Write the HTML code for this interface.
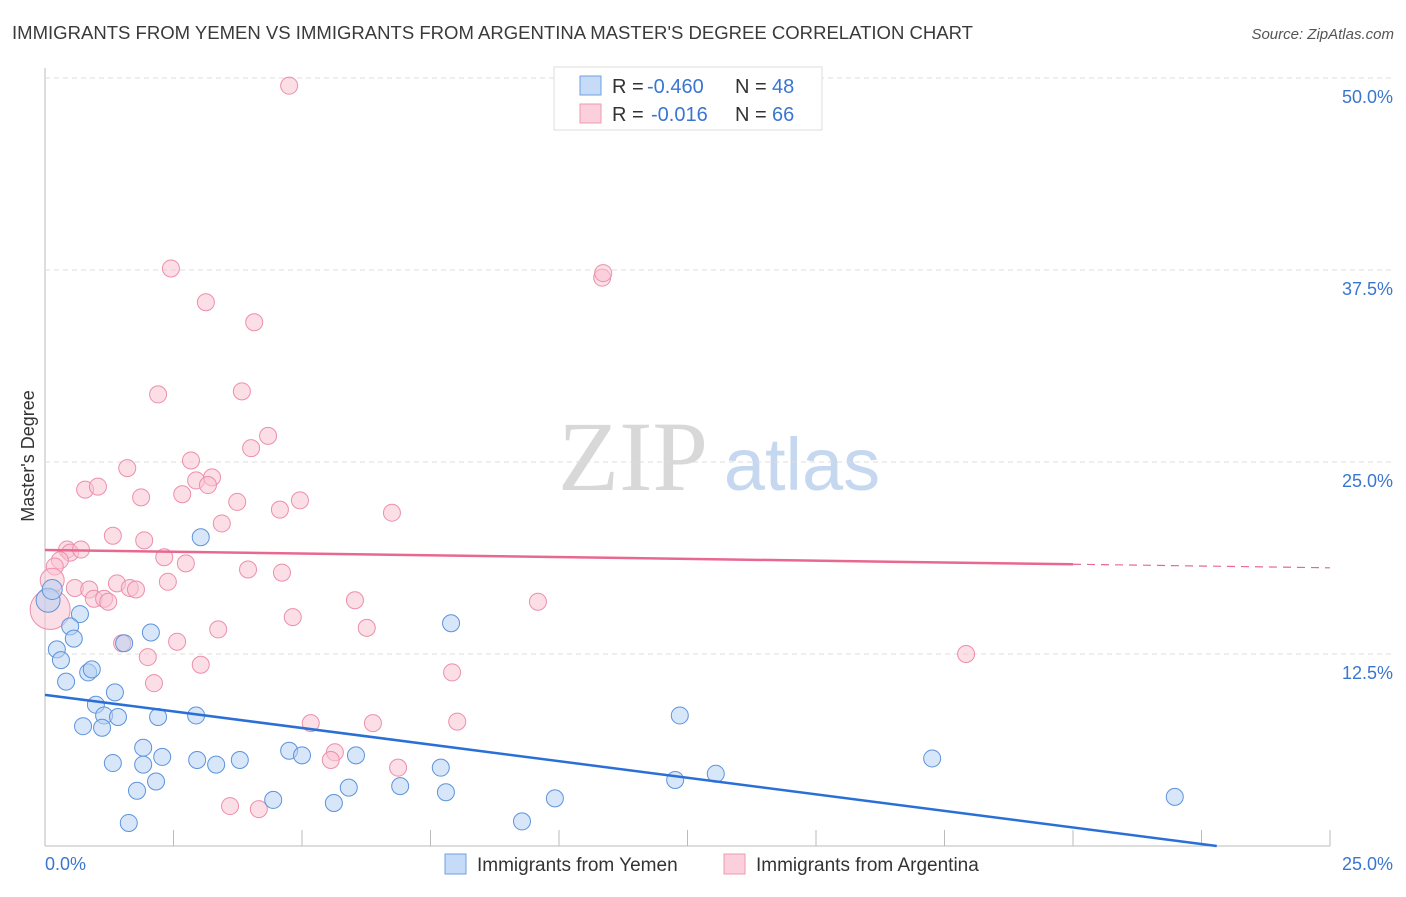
<!DOCTYPE html>
<html><head><meta charset="utf-8"><style>
body{margin:0;background:#fff;font-family:"Liberation Sans",sans-serif}
</style></head><body>
<svg width="1406" height="892" xmlns="http://www.w3.org/2000/svg" id="svg">
<text x="12" y="39" font-size="18" fill="#3a3a3a" textLength="961" lengthAdjust="spacingAndGlyphs">IMMIGRANTS FROM YEMEN VS IMMIGRANTS FROM ARGENTINA MASTER'S DEGREE CORRELATION CHART</text>
<text x="1394" y="39" font-size="15" fill="#555" text-anchor="end" font-style="italic">Source: ZipAtlas.com</text>
<text x="633" y="490" font-size="100" fill="#d8d8d8" font-family="Liberation Serif,serif" text-anchor="middle">ZIP</text>
<text x="802" y="490" font-size="74" fill="#c5d8f0" text-anchor="middle">atlas</text>
<text x="34" y="456" font-size="18" fill="#333" text-anchor="middle" transform="rotate(-90 34 456)">Master's Degree</text>
<g id="grid"></g><g id="pts"></g><g id="lines"></g>
<g>
<rect x="554" y="67" width="268" height="63" fill="#fff" stroke="#ddd"/>
<rect x="580" y="76" width="21" height="19" fill="#c6dbf7" stroke="#6f9fe0"/>
<rect x="580" y="104" width="21" height="19" fill="#fbd0dc" stroke="#ee9ab3"/>
<text x="612" y="93" font-size="20" fill="#333">R =</text>
<text x="647" y="93" font-size="20" fill="#3a76d0">-0.460</text>
<text x="735" y="93" font-size="20" fill="#333">N =</text>
<text x="772" y="93" font-size="20" fill="#3a76d0">48</text>
<text x="612" y="121" font-size="20" fill="#333">R =</text>
<text x="651" y="121" font-size="20" fill="#3a76d0">-0.016</text>
<text x="735" y="121" font-size="20" fill="#333">N =</text>
<text x="772" y="121" font-size="20" fill="#3a76d0">66</text>
</g>
<g>
<rect x="445" y="854" width="21" height="20" fill="#c6dbf7" stroke="#6f9fe0"/>
<text x="477" y="871" font-size="19" fill="#333">Immigrants from Yemen</text>
<rect x="724" y="854" width="21" height="20" fill="#fbd0dc" stroke="#ee9ab3"/>
<text x="756" y="871" font-size="19" fill="#333">Immigrants from Argentina</text>
</g>
</svg>
<script>
const yTicks=[12.5,25,37.5,50];
const yTickLabels=["12.5%","25.0%","37.5%","50.0%"];
const xTickLabels=["0.0%","25.0%"];
const yemenX=[0.06,0.14,0.68,0.49,0.56,0.23,0.31,0.41,0.84,0.91,0.99,1.36,1.15,1.42,0.74,1.11,2.06,1.54,3.03,2.2,2.94,1.91,2.28,2.96,3.33,3.79,1.32,1.91,2.16,1.79,1.63,4.75,5.0,6.05,4.44,5.62,5.91,6.91,7.7,7.8,7.9,9.28,9.92,12.35,12.26,13.05,17.26,21.98];
const yemenY=[16.0,16.7,15.1,14.3,13.5,12.8,12.1,10.7,11.3,11.5,9.2,10.0,8.5,8.4,7.8,7.7,13.9,13.2,20.1,8.4,8.5,6.4,5.8,5.6,5.3,5.6,5.4,5.3,4.2,3.6,1.5,6.2,5.9,5.9,3.0,2.8,3.8,3.9,5.1,3.5,14.5,1.6,3.1,8.5,4.3,4.7,5.7,3.2];
const argX=[4.75,2.45,3.13,10.84,10.86,4.07,2.2,3.83,4.34,4.01,2.84,1.6,0.78,1.03,1.87,2.67,2.94,3.25,3.17,3.74,4.96,4.57,6.75,3.44,1.32,1.93,2.32,2.74,0.43,0.49,0.7,0.29,0.19,0.14,0.1,0.58,0.86,0.95,1.15,1.23,1.4,1.65,1.77,2.39,3.95,4.61,6.03,9.59,4.82,3.37,6.26,1.5,2.57,2.0,3.03,2.12,7.92,17.92,5.17,6.38,8.02,5.64,5.56,6.87,3.6,4.16];
const argY=[49.5,37.6,35.4,37.0,37.3,34.1,29.4,29.6,26.7,25.9,25.1,24.6,23.2,23.4,22.7,22.9,23.8,24.0,23.5,22.4,22.5,21.9,21.7,21.0,20.2,19.9,18.8,18.4,19.3,19.1,19.3,18.6,18.2,17.3,15.4,16.8,16.7,16.1,16.1,15.9,17.1,16.8,16.7,17.2,18.0,17.8,16.0,15.9,14.9,14.1,14.2,13.2,13.3,12.3,11.8,10.6,11.3,12.5,8.0,8.0,8.1,6.1,5.6,5.1,2.6,2.4];
const NS="http://www.w3.org/2000/svg";
const X=v=>45+v/25*1285, Y=v=>846-v/12.5*192;
function mk(t,a,p){const e=document.createElementNS(NS,t);for(const k in a)e.setAttribute(k,a[k]);document.getElementById(p).appendChild(e);return e;}
const g='grid';
const ax=mk('line',{x1:45,y1:68,x2:45,y2:846,stroke:'#bbb'},g);


const bx=mk('line',{x1:45,y1:846,x2:1330,y2:846,stroke:'#bbb'},g);


for(let i=1;i<=10;i++){const t=mk('line',{x1:X(i*2.5),y1:830,x2:X(i*2.5),y2:846,stroke:'#bbb'},g);

}
yTicks.forEach((v,i)=>{const l=mk('line',{x1:45,y1:Y(v),x2:1394,y2:Y(v),stroke:'#ddd','stroke-dasharray':'5,4'},g);


const t=mk('text',{x:1393,y:Y(v)+25,'font-size':18,fill:'#3a76d0','text-anchor':'end'},g);t.textContent=yTickLabels[i];

});
[[45,'start',0],[1393,'end',1]].forEach(([x,a,i])=>{const t=mk('text',{x:x,y:870,'font-size':18,fill:'#3a76d0','text-anchor':a},g);t.textContent=xTickLabels[i];

});
function pts(xs,ys,f,s,nm,big){xs.forEach((x,i)=>{let r=big[i]||8.5;
const c=mk('circle',{cx:X(x),cy:Y(ys[i]),r:r,fill:f,'fill-opacity':0.55,stroke:s,'stroke-width':1},'pts');

});}
pts(argX,argY,'#f9c3d2','#ec8fab','argentina-point',{33:12,34:20});
pts(yemenX,yemenY,'#b7d1f3','#5d93dc','yemen-point',{0:12,1:10});
function fit(xs,ys){const n=xs.length;let mx=0,my=0;xs.forEach((x,i)=>{mx+=x;my+=ys[i]});mx/=n;my/=n;let sxy=0,sxx=0;xs.forEach((x,i)=>{sxy+=(x-mx)*(ys[i]-my);sxx+=(x-mx)**2});const b=sxy/sxx;return [my-b*mx,b];}
let [a1,b1]=fit(yemenX,yemenY);
let xe=b1<0?Math.min(25,-a1/b1):25;
const l1=mk('line',{x1:X(0),y1:Y(a1),x2:X(xe),y2:Y(a1+b1*xe),stroke:'#2a6fd6','stroke-width':2.5},'lines');


let [a2,b2]=fit(argX,argY);
const l2=mk('line',{x1:X(0),y1:Y(a2),x2:X(20),y2:Y(a2+b2*20),stroke:'#e8698f','stroke-width':2.5},'lines');


const l3=mk('line',{x1:X(20),y1:Y(a2+b2*20),x2:X(25),y2:Y(a2+b2*25),stroke:'#e8698f','stroke-width':1.2,'stroke-dasharray':'8,6'},'lines');


</script>
</body></html>
